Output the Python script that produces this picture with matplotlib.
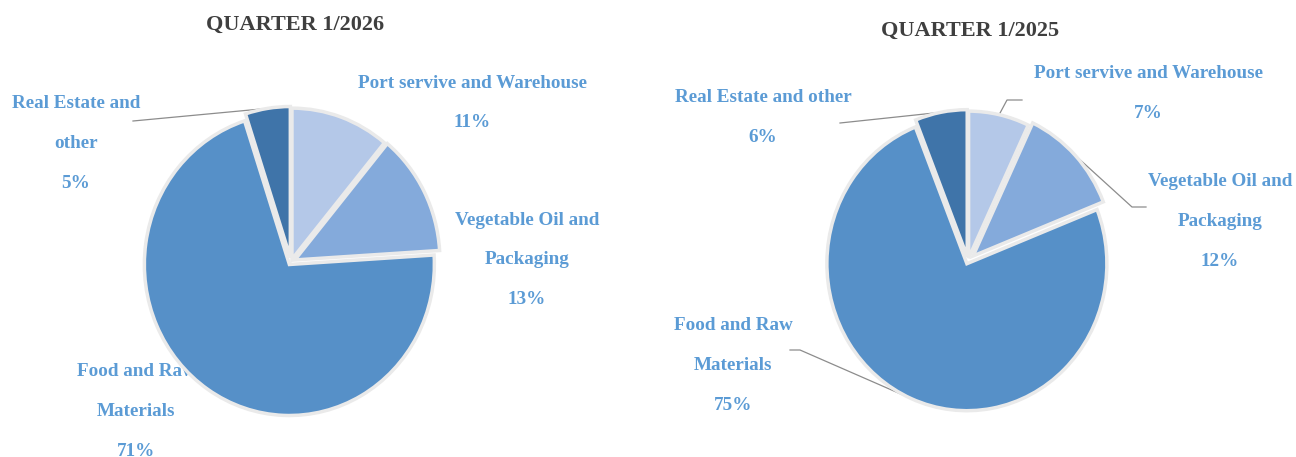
import matplotlib
matplotlib.use("Agg")
import matplotlib.pyplot as plt
import numpy as np

W, H = 1296, 457

# ---- data ----
categories = ["Port servive and Warehouse", "Vegetable Oil and Packaging",
              "Food and Raw Materials", "Real Estate and other"]
values_2026 = [11, 13, 71, 5]
values_2025 = [7, 12, 75, 6]
titles = ["QUARTER 1/2026", "QUARTER 1/2025"]

# label line breaks as shown in the chart
labels_2026 = [["Port servive and Warehouse"], ["Vegetable Oil and", "Packaging"],
               ["Food and Raw", "Materials"], ["Real Estate and", "other"]]
labels_2025 = [["Port servive and Warehouse"], ["Vegetable Oil and", "Packaging"],
               ["Food and Raw", "Materials"], ["Real Estate and other"]]

colors = ["#B4C8E8", "#84AADB", "#5690C8", "#3F74A9"]
label_color = "#5B9BD5"
title_color = "#3F3F3F"
FONT = "Liberation Serif"

fig = plt.figure(figsize=(W / 100, H / 100), dpi=100)

def fx(px):
    return px / W

def fy(py):
    return 1 - py / H

# pie geometry (pixels): center, x radius, y radius
pies = [
    dict(vals=values_2026, labels=labels_2026, title=titles[0], cx=291, cy=262, rx=145, ry=151,
         title_pos=(295, 25), explode=[0.02, 0.03, 0.02, 0.03],
         label_pos=[(472, 103), (527, 260), (136, 411), (76, 144)],
         leaders={3: [(133, 121)]}),
    dict(vals=values_2025, labels=labels_2025, title=titles[1], cx=968, cy=261, rx=140, ry=147,
         title_pos=(970, 31), explode=[0.02, 0.05, 0.02, 0.03],
         label_pos=[(1148, 93), (1220, 222), (733, 365), (763, 117)],
         leaders={3: [(840, 123)], 0: [(1007, 100), (1022, 100)],
                  1: [(1132, 207), (1146, 207)], 2: [(800, 350), (790, 350)]}),
]

L = 1.08
for p in pies:
    aw, ah = 2 * L * p["rx"], 2 * L * p["ry"]
    ax = fig.add_axes([fx(p["cx"] - aw / 2), fy(p["cy"] + ah / 2), fx(aw), ah / H])
    wedges, _ = ax.pie(p["vals"], colors=colors, startangle=90, counterclock=False,
                       explode=p["explode"],
                       wedgeprops=dict(edgecolor="#EAEAEA", linewidth=2.5))
    ax.set_aspect("auto")
    ax.set_xlim(-L, L)
    ax.set_ylim(-L, L)
    ax.set_zorder(2)
    ax.patch.set_visible(False)

    # leader lines from slice mid-angle
    total = sum(p["vals"])
    start = 90.0
    for i, v in enumerate(p["vals"]):
        ang = start - v / total * 360 / 2
        start -= v / total * 360
        if i in p["leaders"]:
            r = 1.0 + p["explode"][i]
            a = np.deg2rad(ang)
            x0, y0 = r * np.cos(a), r * np.sin(a)
            px0 = p["cx"] + x0 * p["rx"]
            py0 = p["cy"] - y0 * p["ry"]
            pts = [(px0, py0)] + p["leaders"][i]
            xs = [fx(q[0]) for q in pts]
            ys = [fy(q[1]) for q in pts]
            fig.add_artist(plt.Line2D(xs, ys, transform=fig.transFigure, color="#8C8C8C",
                                      lw=0.9, zorder=1))

    # labels
    for i, (lines, (lx, ly)) in enumerate(zip(p["labels"], p["label_pos"])):
        all_lines = lines + [f"{p['vals'][i]}%"]
        n = len(all_lines)
        for j, t in enumerate(all_lines):
            yy = ly + (j - (n - 1) / 2) * 40
            fig.text(fx(lx), fy(yy), t, ha="center", va="center", color=label_color,
                     fontsize=13.8, fontweight="bold", family=FONT, zorder=1)

    fig.text(fx(p["title_pos"][0]), fy(p["title_pos"][1]), p["title"], ha="center", va="center",
             color=title_color, fontsize=16, fontweight="bold", family=FONT)

fig.savefig("out.png", dpi=100, facecolor="white")
